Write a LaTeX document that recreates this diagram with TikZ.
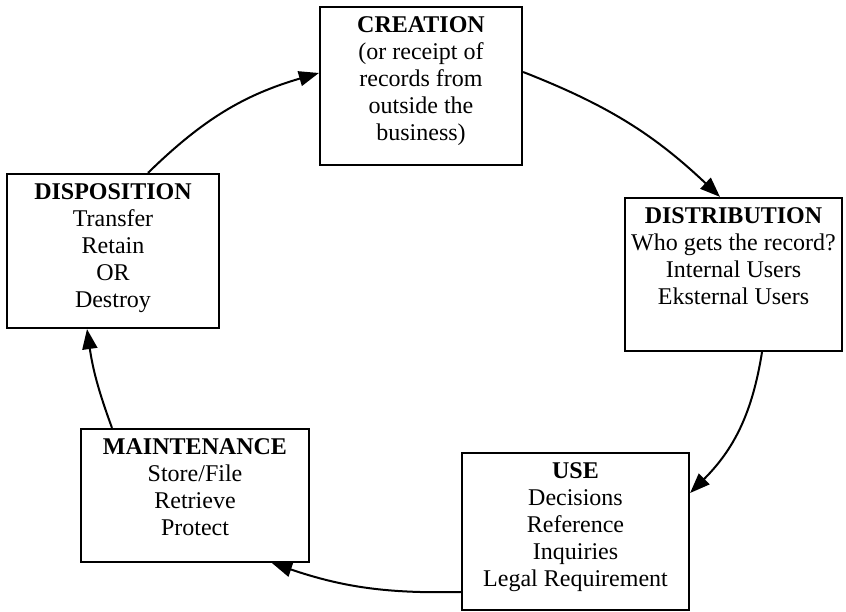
\documentclass[tikz,border=0pt]{standalone}
\usepackage{fontspec}
\setmainfont{Liberation Serif}
\usetikzlibrary{arrows.meta}
\tikzset{
  box/.style={draw, line width=2.2pt, rectangle, inner sep=0pt},
  boxtext/.style={anchor=base, inner sep=0pt, font=\fontsize{24}{27}\selectfont},
  flow/.style={line width=2pt, arrows={-Triangle[length=20pt,width=15pt]}}
}
\newcommand{\boxlines}[1]{\begin{tabular}[t]{@{}c@{}}#1\end{tabular}}
\begin{document}
\begin{tikzpicture}[x=1pt,y=1pt]
\useasboundingbox (0,0) rectangle (846,612);
\fill[white] (0,0) rectangle (846,612);

\node[box, minimum width=202pt, minimum height=158pt] (crea) at (421,526) {};
\node[box, minimum width=217pt, minimum height=153pt] (dist) at (733.5,337.5) {};
\node[box, minimum width=227pt, minimum height=157pt] (use) at (575.5,80.5) {};
\node[box, minimum width=228pt, minimum height=133pt] (maint) at (195,116.5) {};
\node[box, minimum width=212pt, minimum height=154pt] (disp) at (113,361) {};

\node[boxtext] (creaT) at ([yshift=-27pt]crea.north) {\boxlines{\textbf{CREATION}\\(or receipt of\\records from\\outside the\\business)}};
\node[boxtext] (distT) at ([yshift=-27pt]dist.north) {\boxlines{\textbf{DISTRIBUTION}\\Who gets the record?\\Internal Users\\Eksternal Users}};
\node[boxtext] (useT) at ([yshift=-27pt]use.north) {\boxlines{\textbf{USE}\\Decisions\\Reference\\Inquiries\\Legal Requirement}};
\node[boxtext] (maintT) at ([yshift=-27pt]maint.north) {\boxlines{\textbf{MAINTENANCE}\\Store/File\\Retrieve\\Protect}};
\node[boxtext] (dispT) at ([yshift=-27pt]disp.north) {\boxlines{\textbf{DISPOSITION}\\Transfer\\Retain\\OR\\Destroy}};

\draw[flow] ([xshift=35pt]disp.north) to[bend left=14] ([yshift=13pt]crea.west);
\draw[flow] ([yshift=14pt]crea.east) to[bend left=11] ([xshift=-13.5pt]dist.north);
\draw[flow] ([xshift=28.5pt]dist.south) to[bend left=18] ([yshift=38.5pt]use.east);
\draw[flow] ([yshift=-60.5pt]use.west) to[bend left=10] ([xshift=77pt]maint.south);
\draw[flow] ([xshift=-83pt]maint.north) to[bend left=6] ([xshift=-26pt]disp.south);
\end{tikzpicture}
\end{document}
